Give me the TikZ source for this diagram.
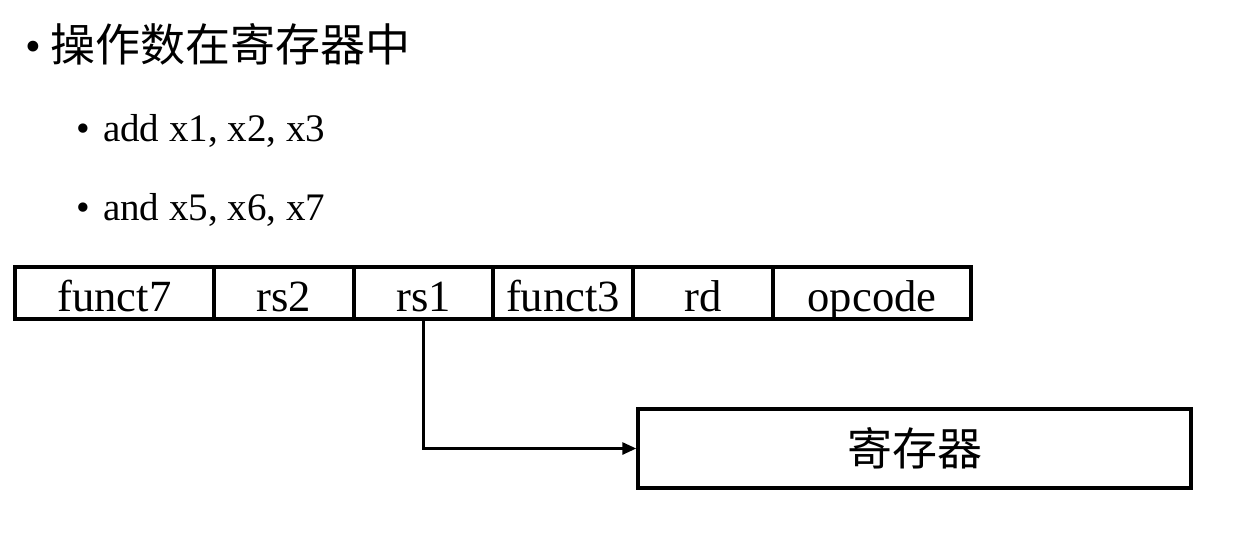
\documentclass[tikz,border=0pt]{standalone}
\usepackage{fontspec}
\setmainfont{Liberation Serif}
\newfontfamily\cjk{Noto Sans CJK SC}
\usetikzlibrary{arrows.meta}
\begin{document}
\begin{tikzpicture}[x=0.5pt,y=-0.5pt,
  field/.style={draw, line width=1.7pt, minimum height=26pt, inner sep=0pt,
    text height=19.5pt, text depth=1pt, font=\fontsize{22.3}{25}\selectfont},
  txt/.style={anchor=base west, inner sep=0pt},
  link/.style={line width=1.4pt, -{Triangle[length=7pt,width=6pt]}}]
\useasboundingbox (0,0) rectangle (1252,532);
\node[txt, font=\fontsize{22.5}{26}\selectfont] (title) at (25,61)
  {•\hspace{4.5pt}\cjk 操作数在寄存器中};
\node[txt, font=\fontsize{19.5}{23}\selectfont] (i1) at (76,141) {•\hspace{6.5pt}add x1, x2, x3};
\node[txt, font=\fontsize{19.5}{23}\selectfont] (i2) at (76,220) {•\hspace{6.5pt}and x5, x6, x7};
\node[field, minimum width=99.5pt] (f7) at (114.5,293) {funct7};
\node[field, minimum width=70pt] (rs2) at (284,293) {rs2};
\node[field, minimum width=69.5pt] (rs1) at (423.5,293) {rs1};
\node[field, minimum width=70pt] (f3) at (563,293) {funct3};
\node[field, minimum width=70pt] (rd) at (703,293) {rd};
\node[field, minimum width=99pt] (op) at (872,293) {opcode};
\node[draw, line width=1.7pt, minimum width=276.5pt, minimum height=39.5pt, inner sep=0pt,
  font=\cjk\fontsize{22.5}{26}\selectfont] (reg) at (914.5,448.5) {寄存器};
\draw[link] (rs1.south) |- (reg.west);
\end{tikzpicture}
\end{document}
